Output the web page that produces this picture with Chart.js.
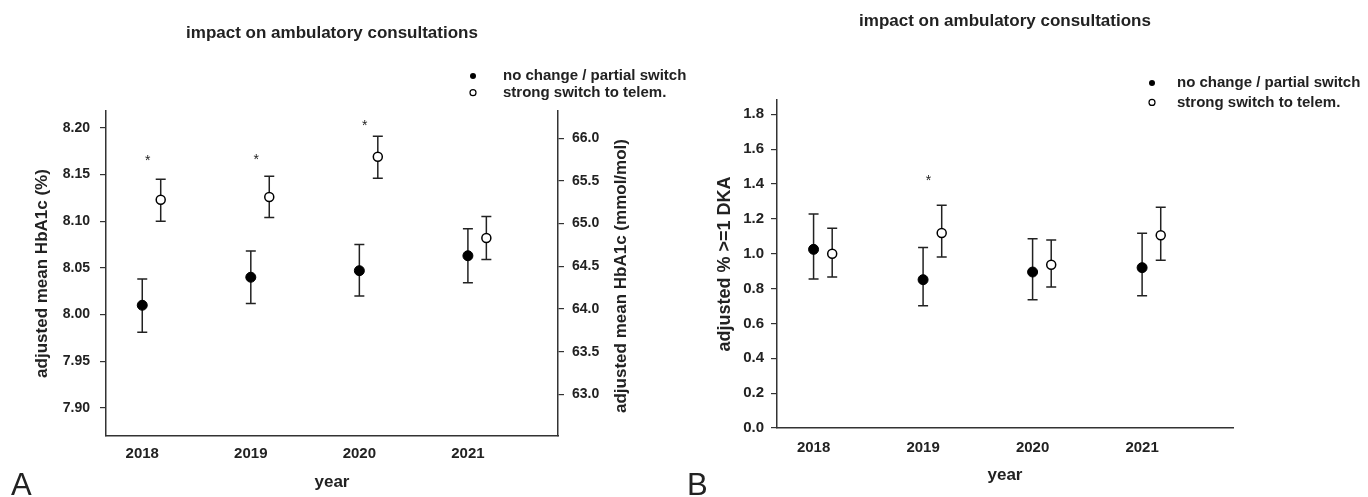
<!DOCTYPE html>
<html>
<head>
<meta charset="utf-8">
<title>impact on ambulatory consultations</title>
<script src="https://cdn.jsdelivr.net/npm/chart.js@4.4.1/dist/chart.umd.min.js"></script>
<style>
html, body { margin: 0; padding: 0; background: #fff; }
#wrap { position: relative; width: 1368px; height: 497px; overflow: hidden; }
#chart-a { position: absolute; left: 0; top: 0; }
#chart-b { position: absolute; left: 684px; top: 0; }
</style>
</head>
<body>
<div id="wrap">
	<canvas id="chart-a" width="700" height="497"></canvas>
	<canvas id="chart-b" width="684" height="497"></canvas>
</div>
<script>
var years = [2018, 2019, 2020, 2021];
var seriesNames = ['no change / partial switch', 'strong switch to telem.'];

// panel A - adjusted mean HbA1c (%)
var hbaNoChange = [8.010, 8.040, 8.047, 8.063];
var hbaNoChangeLow = [7.981, 8.012, 8.020, 8.034];
var hbaNoChangeHigh = [8.038, 8.068, 8.075, 8.092];
var hbaStrong = [8.123, 8.126, 8.169, 8.082];
var hbaStrongLow = [8.100, 8.104, 8.146, 8.059];
var hbaStrongHigh = [8.145, 8.148, 8.191, 8.105];
var hbaTicks = [7.90, 7.95, 8.00, 8.05, 8.10, 8.15, 8.20];
var mmolTicks = [63.0, 63.5, 64.0, 64.5, 65.0, 65.5, 66.0];
var hbaStarYears = [2018, 2019, 2020];
var hbaStarLevel = [8.169, 8.170, 8.206];

// panel B - adjusted % >=1 DKA
var dkaNoChange = [1.025, 0.851, 0.895, 0.920];
var dkaNoChangeLow = [0.855, 0.702, 0.736, 0.759];
var dkaNoChangeHigh = [1.228, 1.035, 1.086, 1.117];
var dkaStrong = [1.000, 1.119, 0.937, 1.106];
var dkaStrongLow = [0.866, 0.981, 0.809, 0.962];
var dkaStrongHigh = [1.146, 1.278, 1.079, 1.266];
var dkaTicks = [0.0, 0.2, 0.4, 0.6, 0.8, 1.0, 1.2, 1.4, 1.6, 1.8];
var dkaStarYears = [2019];
var dkaStarLevel = [1.438];

Chart.defaults.font.family = "'Liberation Sans', Arial, sans-serif";
Chart.defaults.color = '#222';

var INK = '#222';
var openShift = 0.17;
var starShift = 0.05;

// % -> mmol/mol (IFCC)
function toMmol(v) {
	return (v - 2.15) * 10.929;
}

function points(mean, shift) {
	return years.map(function(y, i) {
		return { x: y + shift, y: mean[i] };
	});
}

function makeSets(mean1, low1, high1, mean2, low2, high2) {
	return [
		{
			label: seriesNames[0],
			data: points(mean1, 0),
			errLow: low1,
			errHigh: high1,
			pointRadius: 5,
			pointBackgroundColor: '#000',
			pointBorderColor: '#000',
			pointBorderWidth: 1,
			showLine: false,
			clip: false
		},
		{
			label: seriesNames[1],
			data: points(mean2, openShift),
			errLow: low2,
			errHigh: high2,
			pointRadius: 4.5,
			pointBackgroundColor: '#fff',
			pointBorderColor: '#000',
			pointBorderWidth: 1.5,
			showLine: false,
			clip: false
		}
	];
}

// error bars + titles, legend and asterisks
function makeDeco(cfg) {
	return {
		id: 'deco',
		beforeDatasetsDraw: function(chart) {
			var ctx = chart.ctx;
			var xs = chart.scales.x, ys = chart.scales.y;
			ctx.save();
			ctx.strokeStyle = INK;
			ctx.lineWidth = 1.5;
			chart.data.datasets.forEach(function(ds) {
				ds.data.forEach(function(pt, i) {
					var x = xs.getPixelForValue(pt.x);
					var y1 = ys.getPixelForValue(ds.errLow[i]);
					var y2 = ys.getPixelForValue(ds.errHigh[i]);
					ctx.beginPath();
					ctx.moveTo(x, y1); ctx.lineTo(x, y2);
					ctx.moveTo(x - 5, y1); ctx.lineTo(x + 5, y1);
					ctx.moveTo(x - 5, y2); ctx.lineTo(x + 5, y2);
					ctx.stroke();
				});
			});
			ctx.restore();
		},
		afterDraw: function(chart) {
			var ctx = chart.ctx;
			var xs = chart.scales.x, ys = chart.scales.y;
			ctx.save();
			ctx.fillStyle = INK;

			// title
			ctx.font = "bold 17px 'Liberation Sans', Arial, sans-serif";
			ctx.textAlign = 'center';
			ctx.textBaseline = 'middle';
			ctx.fillText('impact on ambulatory consultations', cfg.titleX, cfg.titleY);

			// legend
			ctx.textAlign = 'left';
			ctx.font = "bold 15px 'Liberation Sans', Arial, sans-serif";
			for (var k = 0; k < 2; k++) {
				var ly = cfg.legendY + k * cfg.legendGap;
				ctx.beginPath();
				ctx.arc(cfg.legendDotX, ly, 3, 0, Math.PI * 2);
				if (k === 0) {
					ctx.fillStyle = '#000';
					ctx.fill();
				} else {
					ctx.fillStyle = '#fff';
					ctx.fill();
					ctx.strokeStyle = '#000';
					ctx.lineWidth = 1.2;
					ctx.stroke();
				}
				ctx.fillStyle = INK;
				ctx.fillText(seriesNames[k], cfg.legendTextX, ly);
			}

			// asterisks
			ctx.font = "14px 'Liberation Sans', Arial, sans-serif";
			ctx.textAlign = 'center';
			ctx.textBaseline = 'alphabetic';
			cfg.starYears.forEach(function(y, i) {
				var sx = xs.getPixelForValue(y + starShift);
				var sy = ys.getPixelForValue(cfg.starLevel[i]);
				ctx.fillText('*', sx, sy + 8);
			});

			// right axis title
			if (cfg.rightTitle) {
				ctx.save();
				ctx.font = "bold 17px 'Liberation Sans', Arial, sans-serif";
				ctx.translate(cfg.rightTitleX, cfg.rightTitleY);
				ctx.rotate(-Math.PI / 2);
				ctx.textAlign = 'center';
				ctx.textBaseline = 'middle';
				ctx.fillText(cfg.rightTitle, 0, 0);
				ctx.restore();
			}

			// panel letter
			ctx.font = "31px 'Liberation Sans', Arial, sans-serif";
			ctx.textAlign = 'left';
			ctx.textBaseline = 'alphabetic';
			ctx.fillText(cfg.letter, cfg.letterX, 495);
			ctx.restore();
		}
	};
}

function yearAxis(h, pad, titlePad) {
	return {
		type: 'linear',
		position: 'bottom',
		min: 2017.666,
		max: 2021.83,
		afterBuildTicks: function(scale) {
			scale.ticks = years.map(function(v) { return { value: v }; });
		},
		afterFit: function(scale) { scale.height = h; },
		grid: { display: false, drawTicks: false },
		border: { display: true, color: '#333', width: 1.5 },
		ticks: {
			autoSkip: false,
			padding: pad,
			font: { size: 15, weight: 'bold' },
			callback: function(v) { return String(v); }
		},
		title: {
			display: true,
			text: 'year',
			font: { size: 17, weight: 'bold' },
			padding: { top: 0, bottom: titlePad }
		}
	};
}

function valueAxis(pos, w, tickList, digits, pad, size) {
	return {
		type: 'linear',
		position: pos,
		afterBuildTicks: function(scale) {
			scale.ticks = tickList.map(function(v) { return { value: v }; });
		},
		afterFit: function(scale) { scale.width = w; },
		grid: { display: true, drawOnChartArea: false, drawTicks: true, tickLength: 6, color: '#333', lineWidth: 1.2 },
		border: { display: true, color: '#333', width: 1.5 },
		ticks: {
			padding: pad,
			font: { size: size, weight: 'bold' },
			callback: function(v) { return Number(v).toFixed(digits); }
		}
	};
}

// ---- panel A ----
var hbaMin = 7.87;
var hbaMax = 8.218;
var axisA = valueAxis('left', 106, hbaTicks, 2, 10, 14);
axisA.min = hbaMin;
axisA.max = hbaMax;
axisA.title = {
	display: true,
	text: 'adjusted mean HbA1c (%)',
	font: { size: 17, weight: 'bold' },
	padding: { top: 32, bottom: 0 }
};
var axisA2 = valueAxis('right', 142, mmolTicks, 1, 8, 14);
axisA2.min = toMmol(hbaMin);
axisA2.max = toMmol(hbaMax);

var chartA = new Chart(document.getElementById('chart-a').getContext('2d'), {
	type: 'scatter',
	data: {
		datasets: makeSets(hbaNoChange, hbaNoChangeLow, hbaNoChangeHigh, hbaStrong, hbaStrongLow, hbaStrongHigh)
	},
	options: {
		responsive: false,
		animation: false,
		layout: { padding: { top: 111, left: 0, right: 0, bottom: 0 } },
		plugins: { legend: { display: false }, tooltip: { enabled: false } },
		scales: {
			x: yearAxis(61, 9, 4),
			y: axisA,
			y2: axisA2
		}
	},
	plugins: [makeDeco({
		titleX: 332, titleY: 33,
		legendDotX: 473, legendY: 76, legendGap: 16.7, legendTextX: 503,
		starYears: hbaStarYears, starLevel: hbaStarLevel,
		rightTitle: 'adjusted mean HbA1c (mmol/mol)', rightTitleX: 621, rightTitleY: 276,
		letter: 'A', letterX: 11
	})]
});

// ---- panel B ----
var axisB = valueAxis('left', 93, dkaTicks, 1, 7, 15);
axisB.min = 0;
axisB.max = 1.882;
axisB.title = {
	display: true,
	text: 'adjusted % >=1 DKA',
	font: { size: 18, weight: 'bold' },
	padding: { top: 30, bottom: 0 }
};

var chartB = new Chart(document.getElementById('chart-b').getContext('2d'), {
	type: 'scatter',
	data: {
		datasets: makeSets(dkaNoChange, dkaNoChangeLow, dkaNoChangeHigh, dkaStrong, dkaStrongLow, dkaStrongHigh)
	},
	options: {
		responsive: false,
		animation: false,
		layout: { padding: { top: 100, left: 0, right: 135, bottom: 0 } },
		plugins: { legend: { display: false }, tooltip: { enabled: false } },
		scales: {
			x: yearAxis(69, 11, 11),
			y: axisB
		}
	},
	plugins: [makeDeco({
		titleX: 321, titleY: 21,
		legendDotX: 468, legendY: 83, legendGap: 19.4, legendTextX: 493,
		starYears: dkaStarYears, starLevel: dkaStarLevel,
		rightTitle: null,
		letter: 'B', letterX: 3
	})]
});
</script>
</body>
</html>
